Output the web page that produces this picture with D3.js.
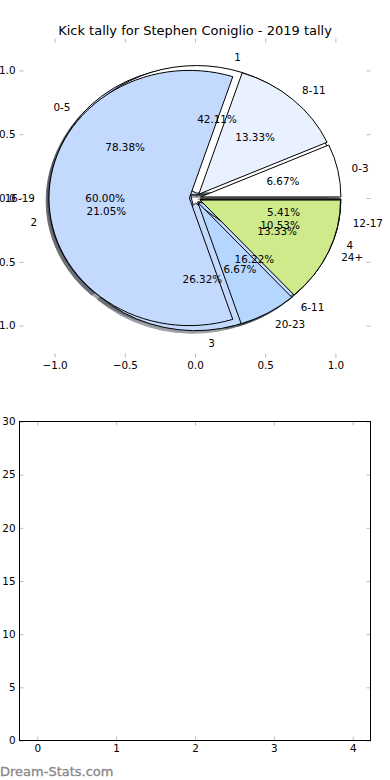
<!DOCTYPE html>
<html><head><meta charset="utf-8">
<script src="https://cdn.jsdelivr.net/npm/d3@7"></script>
<style>body{margin:0;background:#fff}svg{display:block}text{font-family:"DejaVu Sans",sans-serif}</style>
</head><body><svg id="c" width="390" height="780"></svg>
<script>
const chartTitle = "Kick tally for Stephen Coniglio - 2019 tally";
// Pie A (drawn first, bottom)
const pieALabels = ["0-5", "6-11", "12-17"];
const pieAValues = [29, 6, 2];
const pieAColors = ["#c4d9fe", "#b5d6fe", "#cfea8a"];
// Pie C (middle)
const pieCLabels = ["1", "2", "3", "4"];
const pieCValues = [8, 4, 5, 2];
const pieCColors = ["#ffffff", "#c4d9fe", "#c4d9fe", "#b5d6fe"];
// Pie B (top)
const pieBLabels = ["0-3", "8-11", "16-19", "20-23", "24+"];
const pieBValues = [1, 2, 9, 1, 2];
const pieBColors = ["#ffffff", "#e9f1fe", "#c4d9fe", "#b5d6fe", "#cfea8a"];
const explodeAmt = 0.04;
const pieTicks = [-1.0, -0.5, 0.0, 0.5, 1.0];
const barXTicks = [0, 1, 2, 3, 4];
const barYTicks = [0, 5, 10, 15, 20, 25, 30];
const watermark = "Dream-Stats.com";

const svg = d3.select("#c");
const fs = 10.4;
const tickColor = "#bbbbbb";

// ---------- Pie axes ----------
const P = {l: 19.5, r: 370.5, t: 38.5, b: 357.5};
const px = d3.scaleLinear().domain([-1.25, 1.25]).range([P.l, P.r]);
const py = d3.scaleLinear().domain([-1.25, 1.25]).range([P.b, P.t]);
const sx = px(1) - px(0), sy = py(0) - py(1);
const arcGen = d3.arc().innerRadius(0).outerRadius(1);

function layout(values, labels, colors) {
  const total = d3.sum(values);
  return d3.pie().sort(null).startAngle(0).endAngle(2 * Math.PI)(values).map((d, i) => {
    const t1 = d.startAngle, t2 = d.endAngle, tm = (t1 + t2) / 2;
    return {
      t1, t2, tm,
      ex: explodeAmt * Math.cos(tm), ey: explodeAmt * Math.sin(tm),
      label: labels[i], color: colors[i],
      pct: (100 * values[i] / total).toFixed(2) + "%"
    };
  });
}
const pies = [
  layout(pieAValues, pieALabels, pieAColors),
  layout(pieCValues, pieCLabels, pieCColors),
  layout(pieBValues, pieBLabels, pieBColors)
];

function wedgePath(w) {
  return arcGen({startAngle: Math.PI / 2 - w.t1, endAngle: Math.PI / 2 - w.t2});
}
function darker(c) {
  const r = d3.rgb(c);
  return d3.rgb(r.r * 0.3, r.g * 0.3, r.b * 0.3).formatHex();
}

const gShadow = svg.append("g");
const gWedge = svg.append("g");
const gText = svg.append("g");

pies.forEach(pie => {
  pie.forEach(w => {
    gShadow.append("path")
      .attr("transform", `translate(${px(w.ex - 0.02)},${py(w.ey - 0.02)}) scale(${sx},${sy})`)
      .attr("d", wedgePath(w))
      .attr("fill", darker(w.color)).attr("stroke", darker(w.color))
      .attr("vector-effect", "non-scaling-stroke").attr("stroke-width", 1)
      .attr("opacity", 0.5);
  });
});
pies.forEach(pie => {
  pie.forEach(w => {
    gWedge.append("path")
      .attr("transform", `translate(${px(w.ex)},${py(w.ey)}) scale(${sx},${sy})`)
      .attr("d", wedgePath(w))
      .attr("fill", w.color).attr("stroke", "#000")
      .attr("vector-effect", "non-scaling-stroke").attr("stroke-width", 1)
      .attr("stroke-linejoin", "round");
  });
});
pies.forEach(pie => {
  pie.forEach(w => {
    const lx = w.ex + 1.1 * Math.cos(w.tm), ly = w.ey + 1.1 * Math.sin(w.tm);
    gText.append("text").attr("x", px(lx)).attr("y", py(ly))
      .attr("text-anchor", lx > 0 ? "start" : "end").attr("dominant-baseline", "central")
      .attr("font-size", fs).attr("fill", "#000").text(w.label);
    const tx = w.ex + 0.6 * Math.cos(w.tm), ty = w.ey + 0.6 * Math.sin(w.tm);
    gText.append("text").attr("x", px(tx)).attr("y", py(ty))
      .attr("text-anchor", "middle").attr("dominant-baseline", "central")
      .attr("font-size", fs).attr("fill", "#000").text(w.pct);
  });
});

function styleAxis(g) {
  g.select(".domain").remove();
  g.selectAll(".tick line").attr("stroke", tickColor);
  g.selectAll(".tick text").attr("font-size", fs).attr("fill", "#000").attr("font-family", "DejaVu Sans");
}
const pfmt = d3.format(".1f");
svg.append("g").attr("transform", `translate(0,${P.b})`)
  .call(d3.axisBottom(px).tickValues(pieTicks).tickSizeInner(-4).tickSizeOuter(0).tickPadding(4).tickFormat(pfmt)).call(styleAxis);
svg.append("g").attr("transform", `translate(0,${P.t})`)
  .call(d3.axisTop(px).tickValues(pieTicks).tickSizeInner(-4).tickSizeOuter(0).tickFormat("")).call(styleAxis);
svg.append("g").attr("transform", `translate(${P.l},0)`)
  .call(d3.axisLeft(py).tickValues(pieTicks).tickSizeInner(-4).tickSizeOuter(0).tickPadding(4).tickFormat(pfmt)).call(styleAxis);
svg.append("g").attr("transform", `translate(${P.r},0)`)
  .call(d3.axisRight(py).tickValues(pieTicks).tickSizeInner(-4).tickSizeOuter(0).tickFormat("")).call(styleAxis);

svg.append("text").attr("x", (P.l + P.r) / 2).attr("y", 30)
  .attr("text-anchor", "middle").attr("dominant-baseline", "central")
  .attr("font-size", 13).attr("fill", "#000").text(chartTitle);

// ---------- Bar axes (empty) ----------
const B = {l: 19.5, r: 370.5, t: 421.5, b: 740.5};
const bx = d3.scaleLinear().domain([-0.225, 4.225]).range([B.l, B.r]);
const by = d3.scaleLinear().domain([0, 30]).range([B.b, B.t]);
const ifmt = d3.format("d");
svg.append("g").attr("transform", `translate(0,${B.b})`)
  .call(d3.axisBottom(bx).tickValues(barXTicks).tickSizeInner(-4).tickSizeOuter(0).tickPadding(4).tickFormat(ifmt)).call(styleAxis);
svg.append("g").attr("transform", `translate(0,${B.t})`)
  .call(d3.axisTop(bx).tickValues(barXTicks).tickSizeInner(-4).tickSizeOuter(0).tickFormat("")).call(styleAxis);
svg.append("g").attr("transform", `translate(${B.l},0)`)
  .call(d3.axisLeft(by).tickValues(barYTicks).tickSizeInner(-4).tickSizeOuter(0).tickPadding(4).tickFormat(ifmt)).call(styleAxis);
svg.append("g").attr("transform", `translate(${B.r},0)`)
  .call(d3.axisRight(by).tickValues(barYTicks).tickSizeInner(-4).tickSizeOuter(0).tickFormat("")).call(styleAxis);
svg.append("rect").attr("x", B.l).attr("y", B.t).attr("width", B.r - B.l).attr("height", B.b - B.t)
  .attr("fill", "none").attr("stroke", "#000").attr("stroke-width", 1);

svg.append("text").attr("x", 0).attr("y", 771).attr("dominant-baseline", "central")
  .attr("font-family", "Liberation Sans")
  .attr("font-size", 13).attr("fill", "#888888").attr("stroke", "#888888").attr("stroke-width", 0.3)
  .text(watermark);
</script></body></html>
